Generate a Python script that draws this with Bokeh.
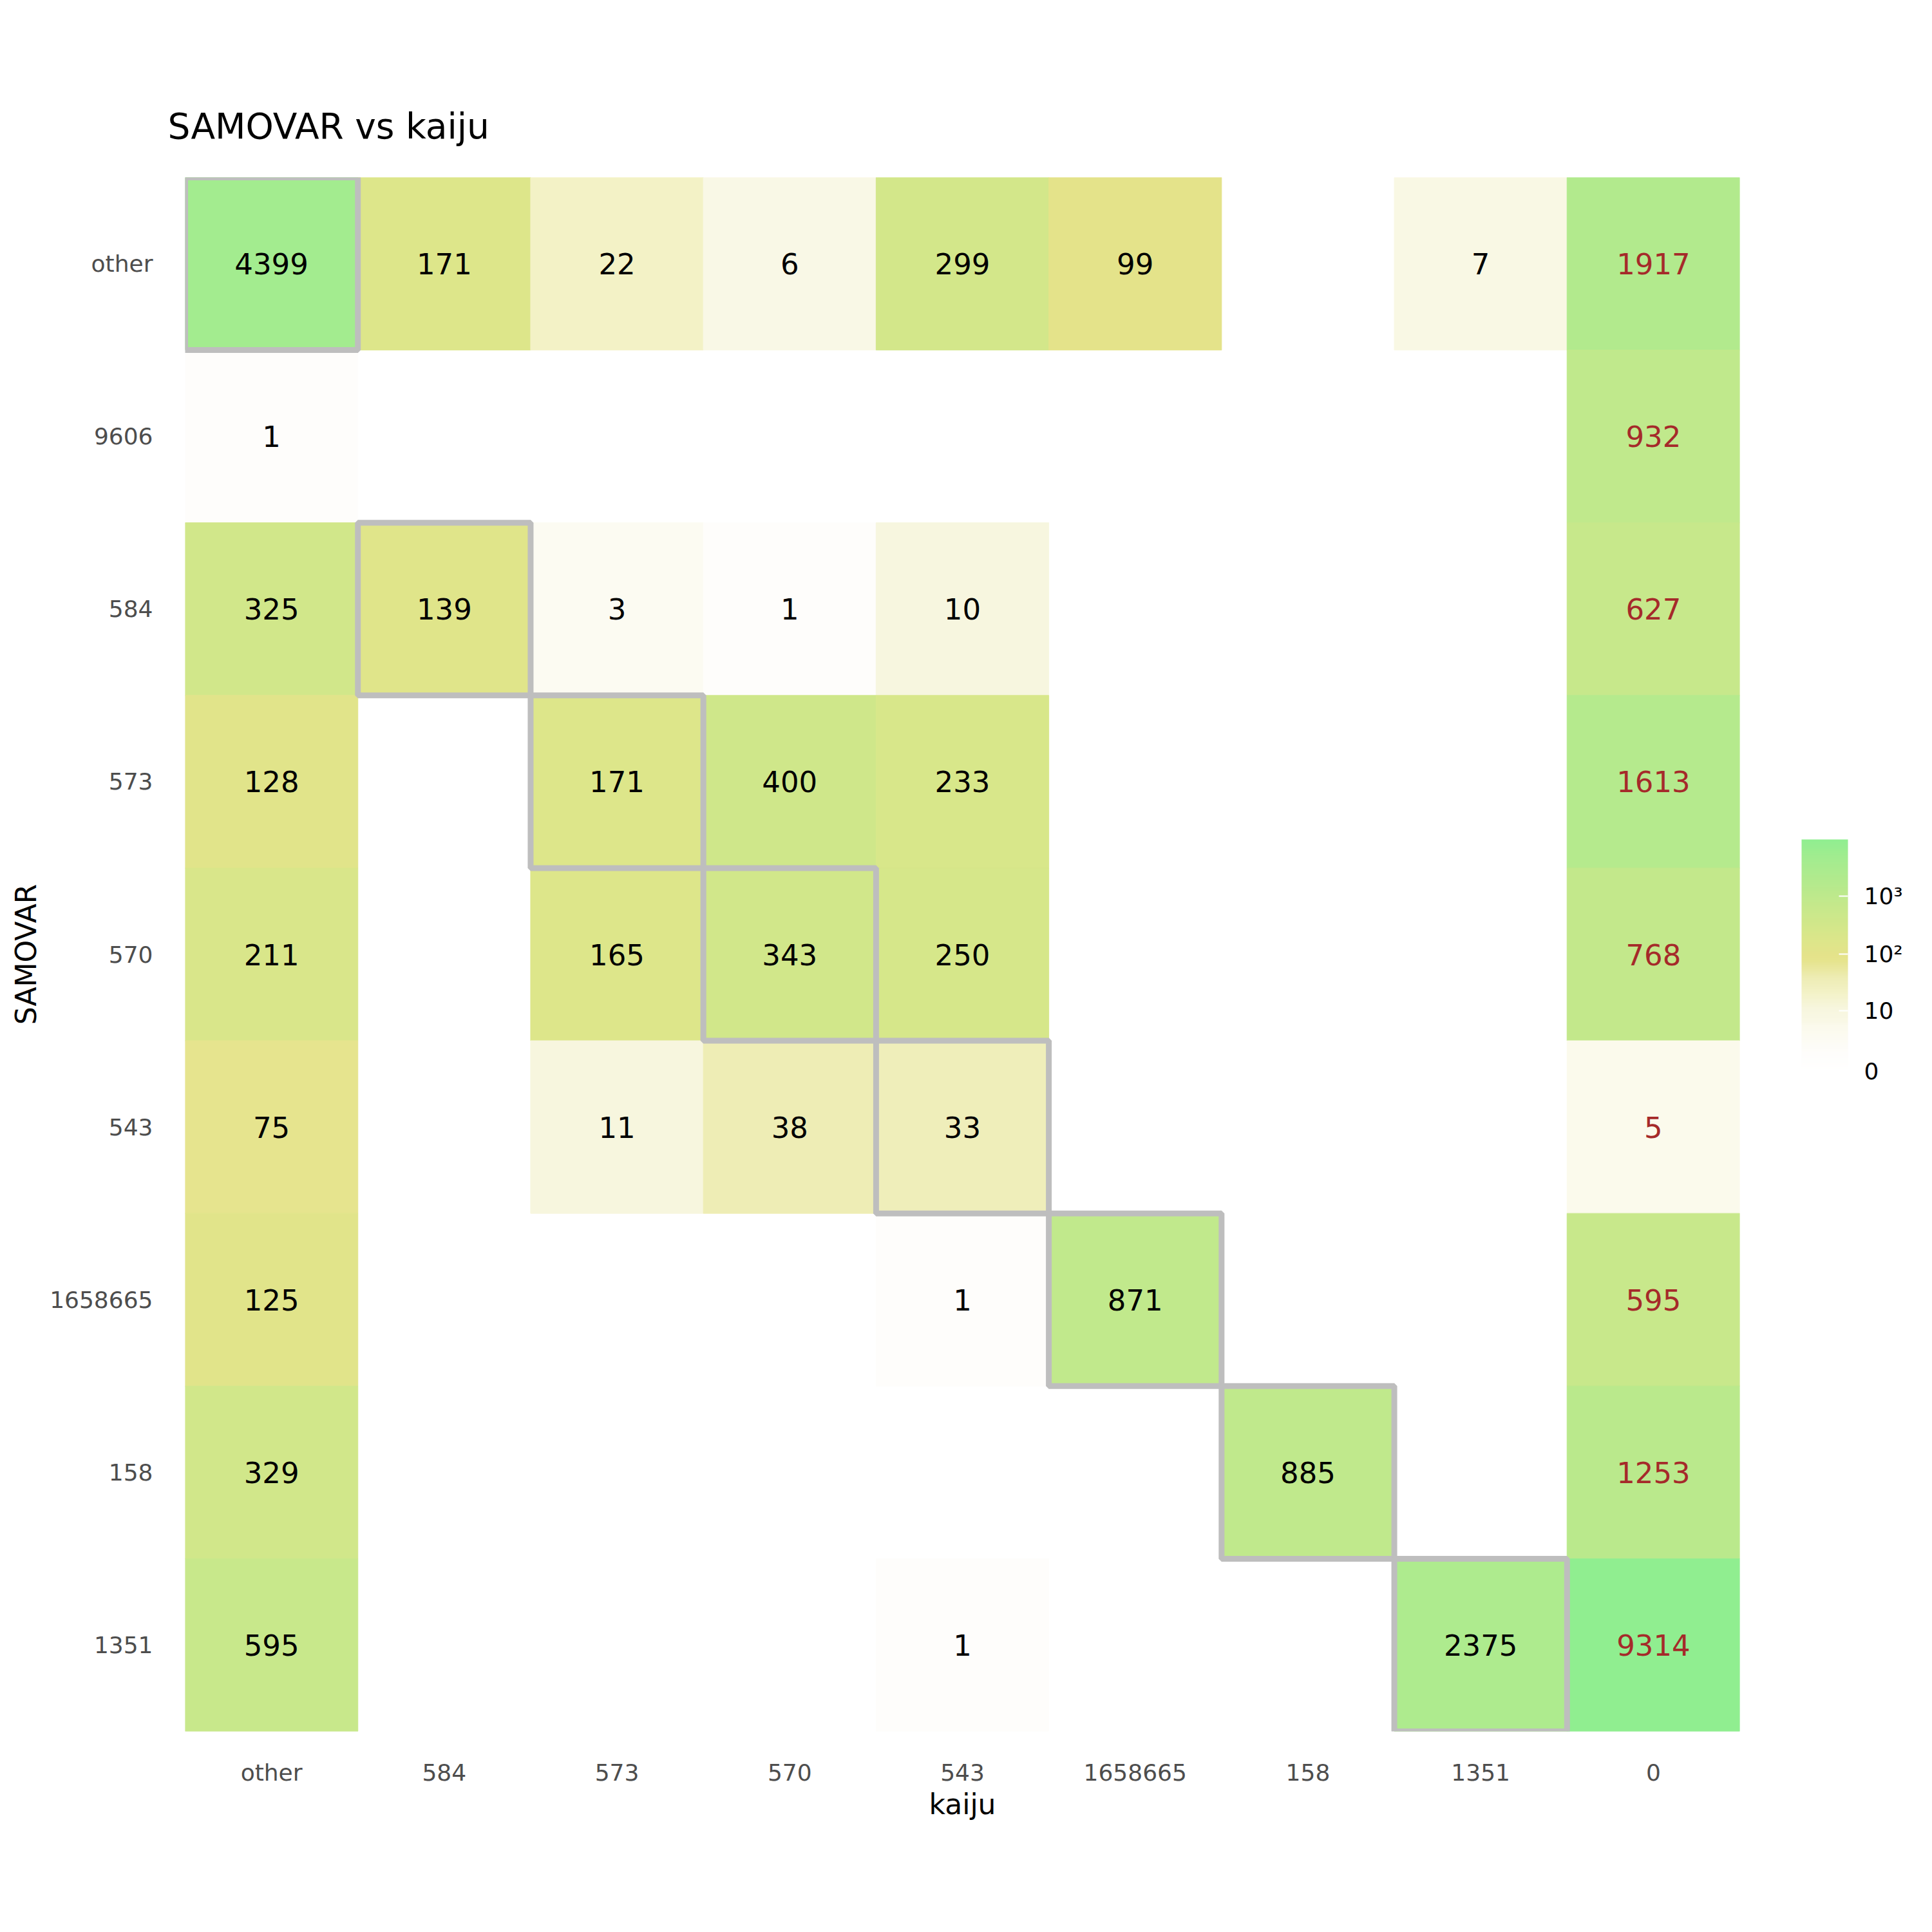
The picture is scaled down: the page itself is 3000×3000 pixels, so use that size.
import numpy as np
from bokeh.plotting import figure
from bokeh.models import ColumnDataSource, FactorRange, ColorBar, LogColorMapper, FixedTicker
from bokeh.core.properties import value
from bokeh.embed import file_html
from bokeh.resources import INLINE

# ---------------- data ----------------
kaiju_cats = ["other", "584", "573", "570", "543", "1658665", "158", "1351", "0"]
samovar_cats = ["other", "9606", "584", "573", "570", "543", "1658665", "158", "1351"]

# counts per SAMOVAR row (None = empty cell), columns follow kaiju_cats
row_other   = [4399, 171, 22, 6, 299, 99, None, 7, 1917]
row_9606    = [1, None, None, None, None, None, None, None, 932]
row_584     = [325, 139, 3, 1, 10, None, None, None, 627]
row_573     = [128, None, 171, 400, 233, None, None, None, 1613]
row_570     = [211, None, 165, 343, 250, None, None, None, 768]
row_543     = [75, None, 11, 38, 33, None, None, None, 5]
row_1658665 = [125, None, None, None, 1, 871, None, None, 595]
row_158     = [329, None, None, None, None, None, 885, None, 1253]
row_1351    = [595, None, None, None, 1, None, None, 2375, 9314]

rows_data = [row_other, row_9606, row_584, row_573, row_570, row_543,
             row_1658665, row_158, row_1351]

# legend tick values
legend_ticks = [0, 10, 100, 1000]
legend_labels = ["0", "10", "10\u00b2", "10\u00b3"]

# ---------------- palette (style) ----------------
anchors = [
    (0.000, "#FFFFFF"), (0.076, "#FEFDFB"), (0.196, "#FBFAEC"), (0.213, "#F9F8E6"),
    (0.272, "#F7F6DE"), (0.338, "#F3F2C7"), (0.398, "#EEEDB6"), (0.474, "#E6E48E"),
    (0.504, "#E4E38A"), (0.563, "#DDE68A"), (0.624, "#D3E78A"), (0.700, "#C8E88B"),
    (0.827, "#B2EA8D"), (0.919, "#A3EC8F"), (1.000, "#90EE90"),
]
at = np.array([a[0] for a in anchors])
ac = np.array([[int(h[1:3], 16), int(h[3:5], 16), int(h[5:7], 16)] for _, h in anchors], float)
N = 256
ts = np.linspace(0, 1, N)
palette = []
for t in ts:
    rgb = [np.interp(t, at, ac[:, k]) for k in range(3)]
    palette.append("#%02x%02x%02x" % tuple(int(round(c)) for c in rgb))

# ---------------- build sources ----------------
xs, ys, vals, v1, labels, tcol = [], [], [], [], [], []
for r, rowvals in zip(samovar_cats, rows_data):
    for c, v in zip(kaiju_cats, rowvals):
        if v is None:
            continue
        xs.append(c); ys.append(r); vals.append(v); v1.append(v + 1)
        labels.append(str(v))
        tcol.append("#a52a2a" if c == "0" else "#000000")
src = ColumnDataSource(dict(x=xs, y=ys, v=vals, v1=v1, label=labels, tc=tcol))

diag = [c for c in kaiju_cats if c in samovar_cats]
dsrc = ColumnDataSource(dict(x=diag, y=diag))

vmax = max(vals)
mapper = LogColorMapper(palette=palette, low=1, high=vmax + 1)

p = figure(width=3000, height=3000,
           x_range=FactorRange(*kaiju_cats),
           y_range=FactorRange(*list(reversed(samovar_cats))),
           output_backend="svg", toolbar_location=None,
           min_border_left=287, min_border_right=299,
           min_border_top=275, min_border_bottom=312,
           title="SAMOVAR vs kaiju")
p.outline_line_color = None
p.xgrid.grid_line_color = None
p.ygrid.grid_line_color = None
p.background_fill_color = "white"
p.border_fill_color = "white"

cmap = {"field": "v1", "transform": mapper}
p.rect(x="x", y="y", width=1, height=1, source=src,
       fill_color=cmap, line_color=cmap, line_width=1)
p.rect(x="x", y="y", width=1, height=1, source=dsrc,
       fill_color=None, line_color="#bebebe", line_width=9)
p.text(x="x", y="y", text="label", source=src,
       text_align="center", text_baseline="middle",
       text_font=value("DejaVu Sans"), text_font_size="45px", text_color="tc")

# title
p.title.text_font = "DejaVu Sans"
p.title.text_font_size = "55px"
p.title.text_font_style = "normal"
p.title.text_color = "black"
p.title.align = "left"
p.title.offset = -27
p.title.standoff = 96

# axes
for ax in (p.xaxis[0], p.yaxis[0]):
    ax.axis_line_color = None
    ax.major_tick_line_color = None
    ax.minor_tick_line_color = None
    ax.major_tick_out = 0
    ax.major_tick_in = 0
    ax.major_label_text_font = "DejaVu Sans"
    ax.major_label_text_font_size = "36px"
    ax.major_label_text_color = "#4d4d4d"
    ax.axis_label_text_font = "DejaVu Sans"
    ax.axis_label_text_font_size = "44px"
    ax.axis_label_text_font_style = "normal"
    ax.axis_label_text_color = "black"
p.xaxis.axis_label = "kaiju"
p.yaxis.axis_label = "SAMOVAR"
p.xaxis.major_label_standoff = 43
p.xaxis.axis_label_standoff = 0
p.yaxis.major_label_standoff = 50
p.yaxis.axis_label_standoff = 8

# colour bar
cb = ColorBar(color_mapper=mapper, width=72, height=360,
              ticker=FixedTicker(ticks=[t + 1 for t in legend_ticks]),
              major_label_overrides={t + 1: l for t, l in zip(legend_ticks, legend_labels)},
              major_label_text_font="DejaVu Sans", major_label_text_font_size="36px",
              major_label_text_color="black", label_standoff=25,
              major_tick_line_color="white", major_tick_line_width=2,
              major_tick_in=14, major_tick_out=0,
              minor_tick_line_color=None, bar_line_color=None,
              border_line_color=None, background_fill_color=None,
              padding=0, margin=0, location=(2510, 1025))
p.add_layout(cb, "center")

open("out.html", "w").write(file_html(p, INLINE))
